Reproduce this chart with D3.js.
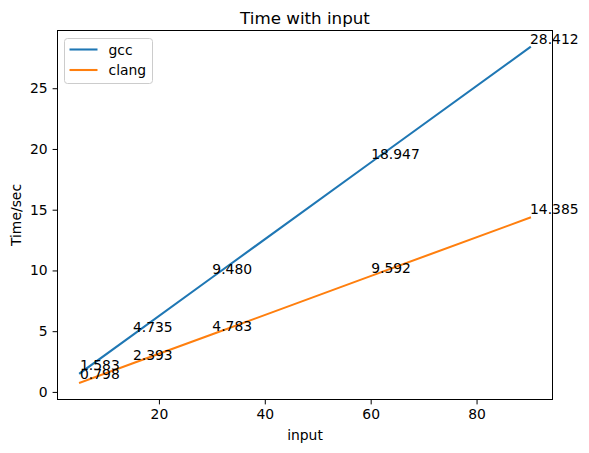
<!DOCTYPE html>
<html>
<head>
<meta charset="utf-8">
<script src="https://cdn.jsdelivr.net/npm/d3@7"></script>
<style>
  body { margin: 0; background: #fff; }
  svg text { font-family: 'DejaVu Sans', sans-serif; fill: #000; }
</style>
</head>
<body>
<div class="chart"></div>
<script>
let inputs = [5, 15, 30, 60, 90];
let gccTimes = [1.583, 4.735, 9.480, 18.947, 28.412];
let clangTimes = [0.798, 2.393, 4.783, 9.592, 14.385];
let seriesNames = ['gcc', 'clang'];
let seriesColors = ['#1f77b4', '#ff7f0e'];
let xTicks = [20, 40, 60, 80];
let yTicks = [0, 5, 10, 15, 20, 25];

let w = 589, h = 453;
let axLeft = 57.5, axRight = 552.5, axTop = 30.5, axBottom = 399.5;
let svg = d3.select('.chart').append('svg').attr('width', w).attr('height', h);

// matplotlib-style 5% margins
let xPad = (90 - 5) * 0.05, yPad = (28.412 - 0.798) * 0.05;
let xScale = d3.scaleLinear().domain([5 - xPad, 90 + xPad]).range([axLeft, axRight]);
let yScale = d3.scaleLinear().domain([0.798 - yPad, 28.412 + yPad]).range([axBottom, axTop]);

/* ==== AXES ===== */

let xAxis = d3.axisBottom(xScale).tickValues(xTicks).tickSize(4.9).tickPadding(4.9).tickFormat(d3.format('d')).offset(0);
let yAxis = d3.axisLeft(yScale).tickValues(yTicks).tickSize(4.9).tickPadding(4.9).tickFormat(d3.format('d')).offset(0);

let gx = svg.append('g').attr('transform', 'translate(0,' + axBottom + ')').call(xAxis);
let gy = svg.append('g').attr('transform', 'translate(' + axLeft + ',0)').call(yAxis);
[gx, gy].forEach(function (g) {
    g.select('.domain').remove();
    g.selectAll('line').attr('stroke', '#000').attr('stroke-width', 1);
    g.selectAll('text').style('font-size', '13.9px').attr('fill', '#000');
});

svg.append('rect')
    .attr('x', axLeft).attr('y', axTop)
    .attr('width', axRight - axLeft).attr('height', axBottom - axTop)
    .attr('fill', 'none').attr('stroke', '#000').attr('stroke-width', 1);

/* ==== LINES ===== */

let series = [gccTimes, clangTimes];
let line = d3.line()
    .x(function (d, i) { return xScale(inputs[i]); })
    .y(function (d) { return yScale(d); });

series.forEach(function (vals, k) {
    svg.append('path')
        .datum(vals)
        .attr('d', line)
        .attr('fill', 'none')
        .attr('stroke', seriesColors[k])
        .attr('stroke-width', 2.08)
        .attr('stroke-linecap', 'square');
});

/* ==== VALUE LABELS ===== */

series.forEach(function (vals) {
    svg.selectAll(null)
        .data(vals)
        .enter()
        .append('text')
        .attr('x', function (d, i) { return xScale(inputs[i]); })
        .attr('y', function (d) { return yScale(d) - 3.3; })
        .style('font-size', '13.9px')
        .text(function (d) { return d.toFixed(3); });
});

/* ==== TITLES ===== */

svg.append('text')
    .attr('x', (axLeft + axRight) / 2).attr('y', axTop - 7)
    .attr('text-anchor', 'middle')
    .style('font-size', '16.7px')
    .text('Time with input');

svg.append('text')
    .attr('x', (axLeft + axRight) / 2).attr('y', 440)
    .attr('text-anchor', 'middle')
    .style('font-size', '13.9px')
    .text('input');

svg.append('text')
    .attr('transform', 'translate(21,' + (axTop + axBottom) / 2 + ') rotate(-90)')
    .attr('text-anchor', 'middle')
    .style('font-size', '13.9px')
    .text('Time/sec');

/* ==== LEGEND ===== */

let legend = svg.append('g').attr('transform', 'translate(64.5,38.5)');
legend.append('rect')
    .attr('width', 88).attr('height', 45)
    .attr('rx', 3).attr('ry', 3)
    .attr('fill', '#fff').attr('fill-opacity', 0.8)
    .attr('stroke', '#ccc').attr('stroke-width', 1);

seriesNames.forEach(function (name, k) {
    let y = 11 + k * 20.5;
    legend.append('line')
        .attr('x1', 5).attr('x2', 33)
        .attr('y1', y).attr('y2', y)
        .attr('stroke', seriesColors[k]).attr('stroke-width', 2.08);
    legend.append('text')
        .attr('x', 44).attr('y', y + 5)
        .style('font-size', '13.9px')
        .text(name);
});
</script>
</body>
</html>
